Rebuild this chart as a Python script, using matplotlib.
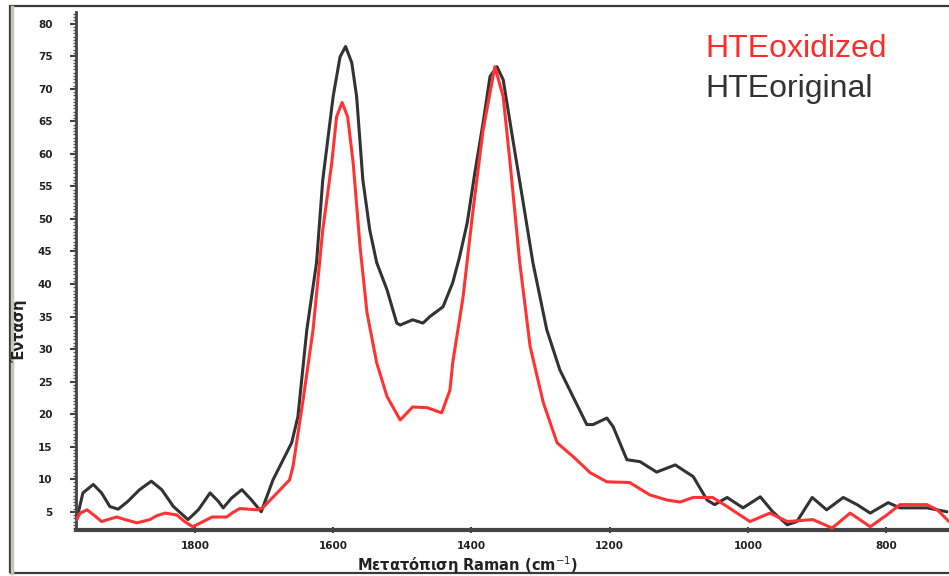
import matplotlib
matplotlib.use("Agg")
import matplotlib.pyplot as plt
from matplotlib.ticker import MultipleLocator
from matplotlib.patches import Rectangle

# Raman shift (cm^-1) and intensity for each series
shift_original = [1971, 1962, 1947, 1935, 1923, 1911, 1897, 1880, 1863, 1848, 1831, 1810,
                  1795, 1778, 1766, 1759, 1747, 1732, 1718, 1704, 1687, 1660, 1651,
                  1638, 1624, 1615, 1600, 1590, 1582, 1573, 1566, 1557, 1547, 1537, 1522,
                  1508, 1503, 1485, 1470, 1460, 1441, 1427, 1417, 1406, 1395, 1383, 1373,
                  1363, 1354, 1340, 1325, 1311, 1291, 1272, 1253, 1233, 1224, 1204, 1195,
                  1175, 1156, 1132, 1105, 1079, 1059, 1048, 1030, 1007, 982, 964, 943,
                  929, 907, 886, 862, 842, 823, 797, 780, 741, 712]
int_original = [3.8, 7.9, 9.2, 7.9, 5.8, 5.4, 6.6, 8.4, 9.7, 8.4, 5.8, 3.8,
                5.3, 7.9, 6.6, 5.6, 7.1, 8.4, 6.8, 5.0, 9.9, 15.6, 19.6,
                33.0, 43.3, 56.0, 68.8, 74.9, 76.5, 74.0, 68.8, 56.0, 48.3, 43.3, 39.1,
                34.0, 33.7, 34.5, 34.0, 35.0, 36.5, 40.2, 44.2, 49.4, 57.1, 64.8, 71.9,
                73.4, 71.4, 62.2, 52.5, 43.3, 33.0, 26.8, 22.7, 18.4, 18.4, 19.4, 18.1,
                13.0, 12.7, 11.1, 12.2, 10.4, 6.8, 6.1, 7.2, 5.6, 7.3, 5.0, 3.0,
                3.5, 7.2, 5.3, 7.2, 6.1, 4.8, 6.4, 5.6, 5.6, 5.0]

shift_oxidized = [1971, 1966, 1956, 1945, 1935, 1926, 1913, 1901, 1884, 1865, 1855, 1843,
                  1826, 1815, 1803, 1788, 1775, 1754, 1745, 1735,
                  1710, 1702, 1681, 1663, 1658, 1644, 1629, 1615, 1602, 1595, 1587, 1579,
                  1571, 1561, 1551, 1537, 1522, 1503, 1485, 1464, 1443, 1431, 1427, 1412,
                  1398, 1383, 1366, 1354, 1344, 1330, 1315, 1296, 1276, 1253, 1228, 1204,
                  1171, 1142, 1117, 1098, 1079, 1051, 1030, 997, 968, 943, 906, 878,
                  852, 823, 799, 780, 741, 726, 709]
int_oxidized = [3.8, 4.8, 5.3, 4.4, 3.5, 3.8, 4.2, 3.8, 3.3, 3.8, 4.4, 4.8,
                4.5, 3.5, 2.7, 3.5, 4.2, 4.2, 4.9, 5.5,
                5.3, 5.6, 7.9, 9.9, 12.0, 21.8, 33.0, 48.3, 58.6, 65.7, 67.9, 65.7,
                58.6, 45.7, 35.6, 27.9, 22.7, 19.1, 21.1, 21.0, 20.2, 23.7, 27.9, 38.0,
                51.0, 63.7, 73.4, 68.8, 58.6, 43.3, 30.4, 21.8, 15.6, 13.5, 11.0, 9.6,
                9.5, 7.6, 6.8, 6.5, 7.2, 7.2, 5.8, 3.5, 4.8, 3.5, 3.8, 2.5,
                4.8, 2.7, 4.5, 6.1, 6.1, 5.3, 3.5]

labels = ["HTEoxidized", "HTEoriginal"]
x_ticks = [1800, 1600, 1400, 1200, 1000, 800]
y_ticks = list(range(5, 85, 5))

W, H = 949, 576
fig = plt.figure(figsize=(W / 100, H / 100), dpi=100)
fig.patch.set_facecolor("white")

# outer frame
fig.patches.append(Rectangle((10 / W, 3 / H), (W + 5 - 10) / W, (570 - 3) / H,
                             transform=fig.transFigure, fill=False,
                             edgecolor="#3a3a3a", linewidth=1.6, zorder=0))
fig.add_artist(plt.Line2D([12 / W, 12 / W], [3 / H, 569 / H], transform=fig.transFigure,
                          color="#c8c4b8", linewidth=2.5))

ax = fig.add_axes([76 / W, 1 - 530 / H, (W - 76) / W, (530 - 12) / H])
ax.plot(shift_original, int_original, color="#333333", lw=2.2,
        solid_joinstyle="round", solid_capstyle="round", zorder=2)
ax.plot(shift_oxidized, int_oxidized, color="#ff3333", lw=2.2,
        solid_joinstyle="round", solid_capstyle="round", zorder=3)

ax.set_xlim(1972, 709)
ax.set_ylim(2.2, 81.8)

for s in ["top", "right"]:
    ax.spines[s].set_visible(False)
ax.spines["left"].set_color("#444444")
ax.spines["left"].set_linewidth(2.0)
ax.spines["bottom"].set_color("#444444")
ax.spines["bottom"].set_linewidth(3.0)

ax.set_xticks(x_ticks)
ax.set_xticklabels([str(v) for v in x_ticks])
ax.xaxis.set_minor_locator(MultipleLocator(50))
ax.set_yticks(y_ticks)
ax.set_yticklabels([str(v) for v in y_ticks])
ax.yaxis.set_minor_locator(MultipleLocator(0.5))

ax.tick_params(axis="y", which="major", direction="out", length=4, width=1.5,
               color="#444444", pad=13, labelsize=7.5, labelcolor="#222222")
ax.tick_params(axis="y", which="minor", direction="out", length=2, width=1,
               color="#555555")
ax.tick_params(axis="x", which="major", direction="inout", length=4, width=1.5,
               color="#444444", pad=6, labelsize=7.5, labelcolor="#222222")
ax.tick_params(axis="x", which="minor", direction="inout", length=3, width=1.2,
               color="#555555")
for lab in ax.get_xticklabels() + ax.get_yticklabels():
    lab.set_fontweight("bold")

fig.text(468 / W, 1 - 565 / H, "Μετατόπιση Raman (cm$^{-1}$)", ha="center", va="center",
         fontsize=10.5, fontweight="bold", color="#222222")
fig.text(19 / W, 1 - 331 / H, "Ένταση", ha="center", va="center", rotation=90,
         fontsize=10.5, fontweight="bold", color="#222222")

fig.text(705 / W, 1 - 49 / H, labels[0], ha="left", va="center", fontsize=23,
         family="Liberation Sans", color="#ff2a2a")
fig.text(705 / W, 1 - 89 / H, labels[1], ha="left", va="center", fontsize=23,
         family="Liberation Sans", color="#333333")

fig.savefig("out.png", dpi=100, facecolor="white")
